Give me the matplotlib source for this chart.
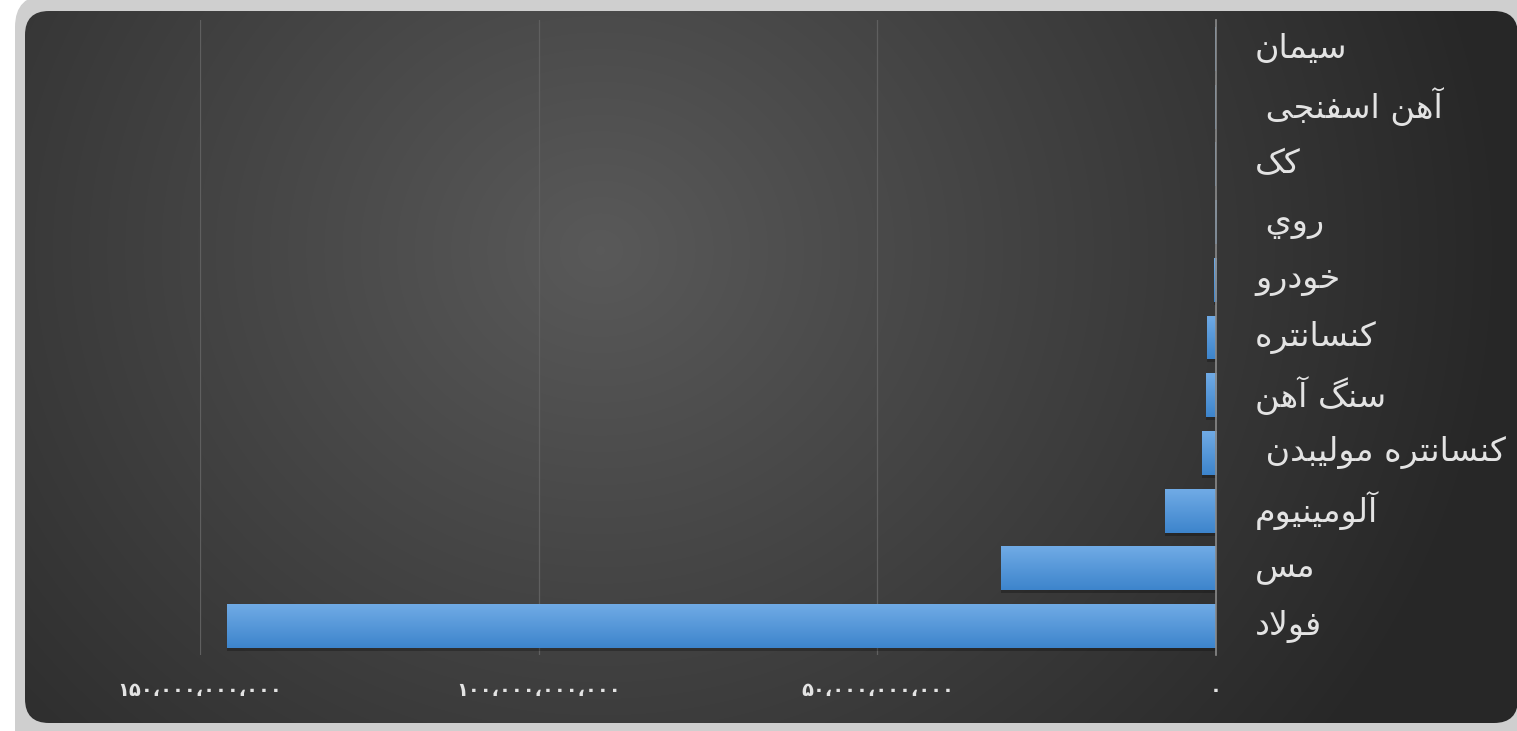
import numpy as np
import matplotlib.pyplot as plt
import matplotlib.transforms as mtransforms
from matplotlib.patches import FancyBboxPatch
from matplotlib.ticker import FuncFormatter

# داده ها
products = ['سیمان', 'آهن اسفنجی ', 'کک', 'روي ', 'خودرو', 'کنسانتره', 'سنگ آهن',
            'کنسانتره مولیبدن ', 'آلومینیوم', 'مس', 'فولاد']
values = [0.08e9, 0.12e9, 0.10e9, 0.15e9, 0.35e9, 1.3e9, 1.5e9, 2.1e9, 7.5e9, 31.7e9, 146.0e9]
x_ticks = [0, 50e9, 100e9, 150e9]

# forms: isolated, final, initial, medial (None => no left joining)
FORMS = {
    'ا': (0xFE8D, 0xFE8E, None, None),
    'آ': (0xFE81, 0xFE82, None, None),
    'ب': (0xFE8F, 0xFE90, 0xFE91, 0xFE92),
    'ت': (0xFE95, 0xFE96, 0xFE97, 0xFE98),
    'ج': (0xFE9D, 0xFE9E, 0xFE9F, 0xFEA0),
    'خ': (0xFEA5, 0xFEA6, 0xFEA7, 0xFEA8),
    'د': (0xFEA9, 0xFEAA, None, None),
    'ر': (0xFEAD, 0xFEAE, None, None),
    'س': (0xFEB1, 0xFEB2, 0xFEB3, 0xFEB4),
    'ف': (0xFED1, 0xFED2, 0xFED3, 0xFED4),
    'ل': (0xFEDD, 0xFEDE, 0xFEDF, 0xFEE0),
    'م': (0xFEE1, 0xFEE2, 0xFEE3, 0xFEE4),
    'ن': (0xFEE5, 0xFEE6, 0xFEE7, 0xFEE8),
    'ه': (0xFEE9, 0xFEEA, 0xFEEB, 0xFEEC),
    'و': (0xFEED, 0xFEEE, None, None),
    'ي': (0xFEF1, 0xFEF2, 0xFEF3, 0xFEF4),
    'ی': (0xFBFC, 0xFBFD, 0xFBFE, 0xFBFF),
    'ک': (0xFB8E, 0xFB8F, 0xFB90, 0xFB91),
    'گ': (0xFB92, 0xFB93, 0xFB94, 0xFB95),
}
LAM_ALEF = {'ا': (0xFEFB, 0xFEFC), 'آ': (0xFEF5, 0xFEF6)}


def shape(text):
    """simple arabic/persian shaping + reverse for LTR renderer"""
    out = []
    i = 0
    n = len(text)
    while i < n:
        c = text[i]
        if c not in FORMS:
            out.append(c)
            i += 1
            continue
        prev = text[i - 1] if i > 0 else ''
        prev_join = prev in FORMS and FORMS[prev][2] is not None
        if c == 'ل' and i + 1 < n and text[i + 1] in LAM_ALEF:
            iso, fin = LAM_ALEF[text[i + 1]]
            out.append(chr(fin if prev_join else iso))
            i += 2
            continue
        nxt = text[i + 1] if i + 1 < n else ''
        next_join = nxt in FORMS and FORMS[c][2] is not None
        f = FORMS[c]
        if prev_join and next_join:
            g = f[3]
        elif prev_join:
            g = f[1]
        elif next_join:
            g = f[2]
        else:
            g = f[0]
        out.append(chr(g))
        i += 1
    return ''.join(out[::-1])


def fa_number(v, pos=None):
    s = '{:,}'.format(int(round(v)))
    digits = '۰۱۲۳۴۵۶۷۸۹'
    return ''.join(digits[int(ch)] if ch.isdigit() else '،' for ch in s)


W, H = 1517, 731
fig = plt.figure(figsize=(W / 100, H / 100), dpi=100, facecolor='white')

# background
bg = fig.add_axes([0, 0, 1, 1], zorder=0)
bg.set_xlim(0, W)
bg.set_ylim(H, 0)
bg.axis('off')
outer = FancyBboxPatch((15, -5), 1560, 780, boxstyle='round,pad=0,rounding_size=32',
                       fc='#cfcfcf', ec='none')
bg.add_patch(outer)
inner = FancyBboxPatch((25, 11), 1493, 712, boxstyle='round,pad=0,rounding_size=24',
                       fc='none', ec='none')
bg.add_patch(inner)
yy, xx = np.mgrid[0:H, 0:W]
r = np.sqrt((xx - 600) ** 2 + ((yy - 250) * 1.1) ** 2) / 900.0
r = np.clip(r, 0, 1)
c0, c1 = 0.35, 0.155
shade = c0 + (c1 - c0) * r
img = np.dstack([shade, shade, shade])
im = bg.imshow(img, extent=[0, W, H, 0], aspect='auto', zorder=1)
im.set_clip_path(inner)

# main chart
ax = fig.add_axes([200 / W, 76 / H, 1016 / W, 635 / H], zorder=1)
ax.set_facecolor('none')
y = np.arange(len(products))
bh = 0.76

ax.barh(y + 0.05, values, height=bh, color='black', alpha=0.25, zorder=2)
bars = ax.barh(y, values, height=bh, color='#4f93d8', zorder=3)
grad = np.linspace(0, 1, 64).reshape(-1, 1)
top = np.array([0.44, 0.67, 0.90])
bot = np.array([0.24, 0.52, 0.80])
gimg = top + (bot - top) * grad[:, :, None]
for b in bars:
    x0, y0 = b.get_x(), b.get_y()
    gi = ax.imshow(gimg, extent=[x0, x0 + b.get_width(), y0 + b.get_height(), y0],
                   aspect='auto', zorder=4, interpolation='bilinear')
    gi.set_clip_path(b)

ax.set_xlim(150e9, 0)
ax.set_ylim(len(products) - 0.5, -0.5)
ax.set_xticks(x_ticks)
ax.xaxis.set_major_formatter(FuncFormatter(fa_number))
ax.grid(axis='x', color='#5f5f5f', lw=0.9, zorder=1)
ax.set_axisbelow(True)
for s in ['left', 'top', 'bottom']:
    ax.spines[s].set_visible(False)
ax.spines['right'].set_color('#8a8a8a')
ax.spines['right'].set_linewidth(1.2)
ax.spines['right'].set_zorder(5)

ax.yaxis.tick_right()
ax.set_yticks(y)
ax.set_yticklabels([shape(p) for p in products])
ax.tick_params(axis='y', length=0, pad=28, labelsize=24, labelcolor='#e3e3e3')
ax.tick_params(axis='x', length=0, pad=19, labelsize=14, labelcolor='#e3e3e3')
for t in ax.get_xticklabels():
    t.set_fontweight('bold')
# labels sit a little above the bar centres
shift = mtransforms.ScaledTranslation(0, 4 / 100, fig.dpi_scale_trans)
for t in ax.get_yticklabels():
    t.set_transform(t.get_transform() + shift)

fig.savefig('out.png', dpi=100, facecolor='white')
